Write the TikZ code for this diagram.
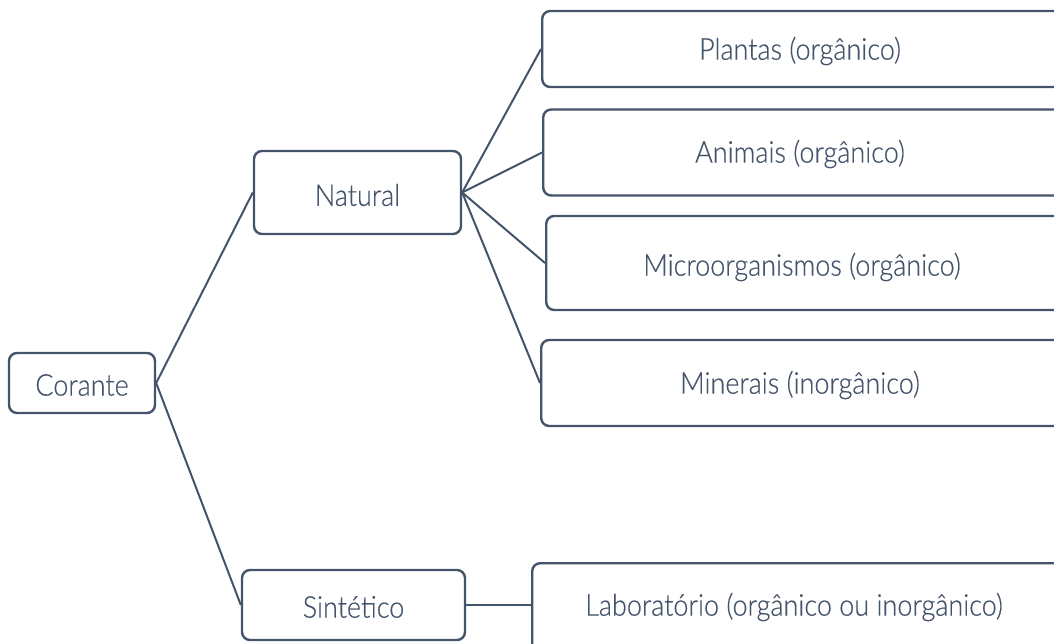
\documentclass[tikz,border=0pt]{standalone}
\usepackage{fontspec}
\setmainfont{Lato}[UprightFont=* Light, FakeStretch=0.9, FakeBold=0.4]
\definecolor{ink}{HTML}{44546A}
\tikzset{
  box/.style={draw=ink, line width=2.4pt, rounded corners=8pt, fill=white, inner sep=0pt},
  lbl/.style={text=ink, font=\fontsize{30}{35}\selectfont, inner sep=0pt},
  link/.style={draw=ink, line width=2pt}
}
\begin{document}
\begin{tikzpicture}[x=1pt,y=-1pt]
\useasboundingbox (0,0) rectangle (1054,644);
\clip (0,0) rectangle (1054,644);
% nodes
\node[box, minimum width=146pt, minimum height=60pt] (corante) at (82,383) {};
\node[lbl] (tcorante) at (82,385) {Corante};
\node[box, minimum width=207pt, minimum height=83pt] (natural) at (357.5,192.5) {};
\node[lbl] (tnatural) at (357.5,195) {Natural};
\node[box, minimum width=223pt, minimum height=70pt] (sint) at (353.5,605) {};
\node[lbl] (tsint) at (353.5,607) {Sintético};
\node[box, anchor=west, minimum width=560pt, minimum height=76pt] (plantas) at (541,49) {};
\node[lbl] (tplantas) at (800,51) {Plantas (orgânico)};
\node[box, anchor=west, minimum width=560pt, minimum height=86pt] (animais) at (542,152.5) {};
\node[lbl] (tanimais) at (800,154) {Animais (orgânico)};
\node[box, anchor=west, minimum width=560pt, minimum height=94pt] (micro) at (545,263) {};
\node[lbl] (tmicro) at (802,267) {Microorganismos (orgânico)};
\node[box, anchor=west, minimum width=560pt, minimum height=86pt] (minerais) at (540,383) {};
\node[lbl] (tminerais) at (800,385) {Minerais (inorgânico)};
\node[box, anchor=north west, minimum width=560pt, minimum height=120pt] (lab) at (531,562) {};
\node[lbl] (tlab) at (794,607) {Laboratório (orgânico ou inorgânico)};
% connectors
\draw[link] (corante.east) -- (natural.west);
\draw[link] (corante.east) -- (sint.west);
\draw[link] (natural.east) -- (plantas.west);
\draw[link] (natural.east) -- (animais.west);
\draw[link] (natural.east) -- (micro.west);
\draw[link] (natural.east) -- (minerais.west);
\draw[link] (sint.east) -- (lab.west |- sint.east);
\end{tikzpicture}
\end{document}
